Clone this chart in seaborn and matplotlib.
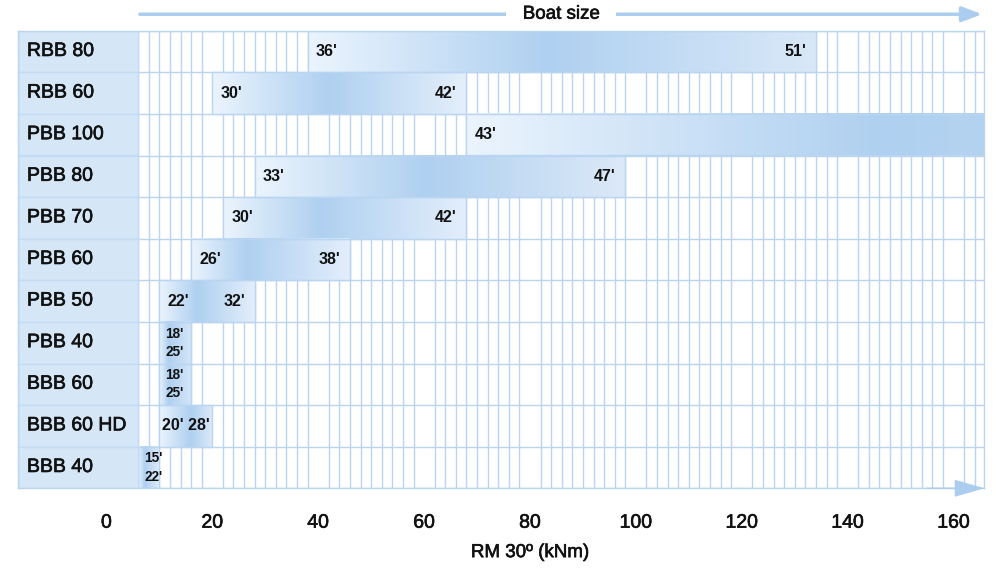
import seaborn as sns
import matplotlib.pyplot as plt
import matplotlib.transforms as mtransforms
import matplotlib.patheffects as pe
from matplotlib.colors import to_rgb
import numpy as np
import pandas as pd

# RM 30° range (kNm) and boat size range for each thruster model
models = ["RBB 80", "RBB 60", "PBB 100", "PBB 80", "PBB 70", "PBB 60",
          "PBB 50", "PBB 40", "BBB 60", "BBB 60 HD", "BBB 40"]
rm_min = [38, 20, 68, 28, 22, 16, 10, 10, 10, 10, 6]
rm_max = [134, 68, 166, 98, 68, 46, 28, 16, 16, 20, 10]
size_min = ["36'", "30'", "43'", "33'", "30'", "26'", "22'", "18'", "18'", "20'", "15'"]
size_max = ["51'", "42'", "", "47'", "42'", "38'", "32'", "25'", "25'", "28'", "22'"]
xticks = [0, 20, 40, 60, 80, 100, 120, 140, 160]

# styling only
label_mode = ["split"] * 7 + ["stack", "stack", "center", "stack"]
peak = [0.47, 0.46, 0.8, 0.46, 0.40, 0.35, 0.4, 0.3, 0.3, 0.6, 0.3]
end_col = ["#d9e8f8", "#e4effb", "#b4d3f0", "#dce9f8", "#e3eefb", "#e3eefb",
           "#e3eefb", "#d3e5f7", "#d3e5f7", "#dbe9f8", "#dfecfa"]

line_c = "#b9d5f1"
cell_c = "#d5e6f7"
light = "#ebf4fd"
dark = "#afd0f0"
arrow_c = "#abcdef"
ink = "#111111"
medium = [pe.withStroke(linewidth=0.45, foreground=ink)]

sns.set_theme(style="white")
plt.rcParams["font.family"] = ["Liberation Sans", "DejaVu Sans"]

df = pd.DataFrame({"model": models, "start": rm_min,
                   "span": np.array(rm_max) - np.array(rm_min)})

fig = plt.figure(figsize=(9.93, 5.68), dpi=100)
ax = fig.add_axes([18 / 993, 1 - 488.3 / 568, 966.3 / 993, 457.6 / 568])

xmin, xmax = -16.7, 165.8
grid_start = 6

sns.barplot(data=df, y="model", x="span", order=models, left=df["start"],
            width=1, errorbar=None, color=light, ax=ax)
bars = list(ax.patches)

# gradient fill for each bar
t = np.linspace(0, 1, 300)
for p, pk, ec in zip(bars, peak, end_col):
    x0, y0, w, h = p.get_x(), p.get_y(), p.get_width(), p.get_height()
    stops = [to_rgb(light), to_rgb(dark), to_rgb(ec)]
    img = np.stack([np.interp(t, [0, pk, 1], [s[i] for s in stops]) for i in range(3)], axis=-1)
    ax.imshow(img[None, :, :], extent=(x0, x0 + w, y0 + h, y0), aspect="auto",
              interpolation="bilinear", zorder=1.5)
    p.set_facecolor("none")
    p.set_edgecolor(line_c)
    p.set_linewidth(1)
    p.set_zorder(2)

# label column
ax.barh(np.arange(len(models)), grid_start - xmin, left=xmin, height=1,
        color=cell_c, edgecolor="#c3dbf3", linewidth=1, zorder=2)
for i, m in enumerate(models):
    ax.text(xmin + 1.7, i, m, ha="left", va="center", fontsize=14, color=ink,
            zorder=3, path_effects=medium)

# bar labels
for i, (a, b, lo, hi, mode) in enumerate(zip(rm_min, rm_max, size_min, size_max, label_mode)):
    kw = dict(textcoords="offset points", va="center", fontweight="bold",
              color=ink, zorder=3)
    if mode == "split":
        ax.annotate(lo, (a, i), xytext=(6, 0), ha="left", fontsize=11.5, **kw)
        if hi:
            ax.annotate(hi, (b, i), xytext=(-7, 0), ha="right", fontsize=11.5, **kw)
    elif mode == "center":
        ax.annotate(lo + " " + hi, ((a + b) / 2, i), xytext=(0, 0), ha="center",
                    fontsize=11.5, **kw)
    else:
        ax.annotate(lo, (a, i), xytext=(4.5, 6.5), ha="left", fontsize=9.8, **kw)
        ax.annotate(hi, (a, i), xytext=(4.5, -6.5), ha="left", fontsize=9.8, **kw)

# grid
ax.set_xticks(np.arange(grid_start, 165, 2), minor=True)
ax.set_yticks(np.arange(-0.5, len(models) + 0.5, 1), minor=True)
ax.grid(which="minor", color=line_c, linewidth=1)
ax.grid(which="major", visible=False)
ax.set_axisbelow(True)

ax.set_xlim(xmin, xmax)
ax.set_ylim(len(models) - 0.5, -0.5)
ax.set_xticks(xticks)
ax.set_xticklabels([str(v) for v in xticks], fontsize=14, color=ink)
for lab in ax.get_xticklabels():
    lab.set_path_effects(medium)
ax.tick_params(axis="both", which="both", length=0)
ax.tick_params(axis="x", pad=19)
ax.tick_params(axis="y", labelleft=False)
ax.set_ylabel("")
for s in ax.spines.values():
    s.set_color(line_c)
    s.set_linewidth(1)

blend = mtransforms.blended_transform_factory(ax.transData, ax.transAxes)
ax.set_xlabel("RM 30º (kNm)", fontsize=13.5, color=ink)
ax.xaxis.label.set_path_effects(medium)
ax.xaxis.set_label_coords(80, -0.122, transform=blend)

# boat size arrow on top
ax.annotate("", xy=(165.4, 1.036), xytext=(6.3, 1.036), xycoords=blend,
            arrowprops=dict(arrowstyle="-|>,head_length=1.2,head_width=0.45",
                            color=arrow_c, lw=2.5, mutation_scale=10,
                            shrinkA=0, shrinkB=0))
ax.text((grid_start + xmax) / 2, 1.036, "   Boat size   ", transform=blend, ha="center",
        va="center", fontsize=13.5, color=ink, path_effects=medium,
        bbox=dict(boxstyle="square,pad=0.05", fc="white", ec="none"))

# arrow head on the bottom axis line
ax.annotate("", xy=(xmax, 0), xytext=(155, 0), xycoords=blend,
            arrowprops=dict(arrowstyle="-|>,head_length=1.9,head_width=0.55",
                            color=arrow_c, lw=1, mutation_scale=10,
                            shrinkA=0, shrinkB=0))

fig.savefig("out.png", dpi=100)
